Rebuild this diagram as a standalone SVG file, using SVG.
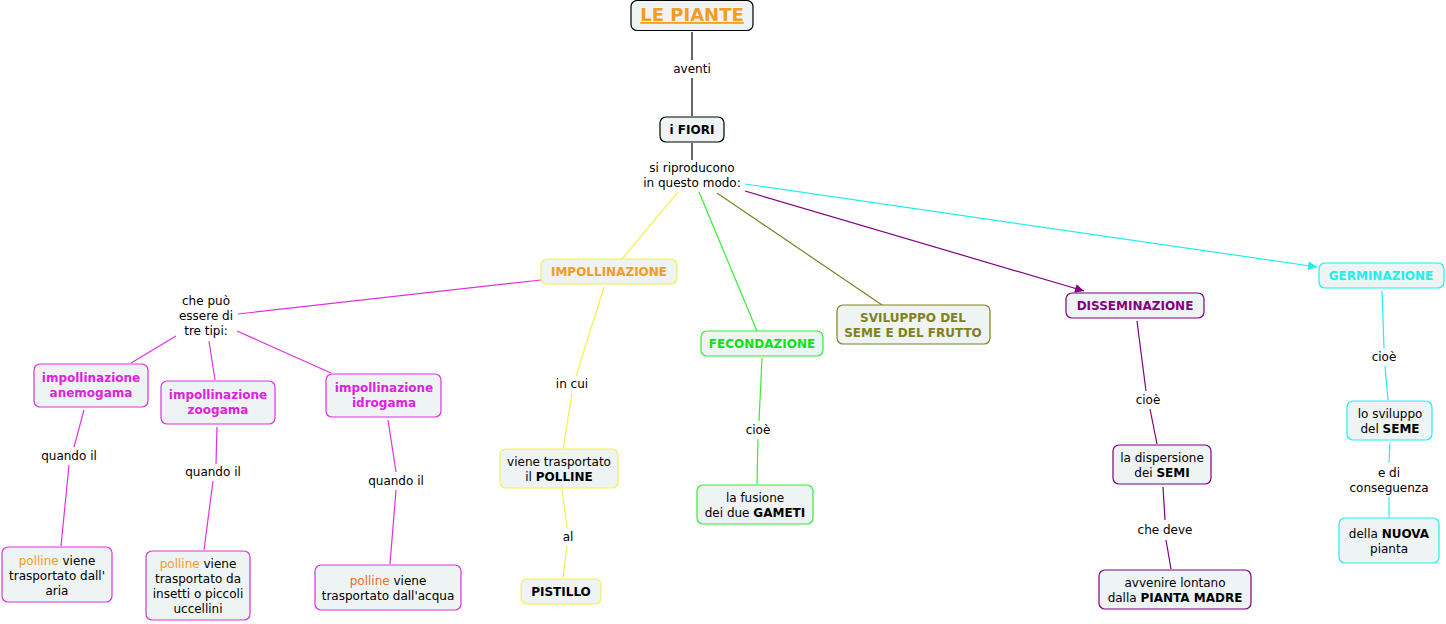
<svg xmlns="http://www.w3.org/2000/svg" width="1446" height="624" viewBox="0 0 1446 624">
<defs>
<style>
text{font-family:"DejaVu Sans",Verdana,sans-serif;font-size:12px;fill:#000;text-anchor:middle}
.b{font-weight:bold}
rect.n{fill:#EEF3F4;stroke-width:1.2}
line{stroke-width:1.2;fill:none}
.k{stroke:#000}.y{stroke:#F5F050}.g{stroke:#33EE33}.o{stroke:#808020}.p{stroke:#800080}.c{stroke:#22EEEE}.m{stroke:#E030E0}
.tm{fill:#DD22DD}.to{fill:#F39C1F}
</style>
<marker id="ap" viewBox="0 0 10 10" refX="10" refY="5" markerWidth="10" markerHeight="9" markerUnits="userSpaceOnUse" orient="auto"><path d="M0,0 L10,5 L0,10 z" fill="#800080"/></marker>
<marker id="ac" viewBox="0 0 10 10" refX="10" refY="5" markerWidth="10" markerHeight="9" markerUnits="userSpaceOnUse" orient="auto"><path d="M0,0 L10,5 L0,10 z" fill="#22EEEE"/></marker>
</defs>
<rect width="1446" height="624" fill="#fff"/>
<g id="connectors">
<line class="k" x1="692" y1="32" x2="692" y2="60"/>
<line class="k" x1="692" y1="78" x2="692" y2="116"/>
<line class="k" x1="692" y1="143" x2="692" y2="160"/>
<line class="y" x1="678" y1="192" x2="622" y2="259"/>
<line class="g" x1="699" y1="192" x2="757" y2="331"/>
<line class="o" x1="717" y1="193" x2="882" y2="305"/>
<line class="p" x1="745" y1="191" x2="1084" y2="291" marker-end="url(#ap)"/>
<line class="c" x1="745" y1="184" x2="1317" y2="267" marker-end="url(#ac)"/>
<line class="m" x1="541" y1="280" x2="238" y2="314"/>
<line class="m" x1="176" y1="336" x2="131" y2="363"/>
<line class="m" x1="209" y1="341" x2="215" y2="380"/>
<line class="m" x1="237" y1="331" x2="331" y2="373"/>
<line class="m" x1="84" y1="410" x2="74" y2="447"/>
<line class="m" x1="69" y1="465" x2="61" y2="546"/>
<line class="m" x1="217" y1="427" x2="216" y2="464"/>
<line class="m" x1="213" y1="481" x2="204" y2="550"/>
<line class="m" x1="388" y1="420" x2="396" y2="472"/>
<line class="m" x1="396" y1="490" x2="390" y2="564"/>
<line class="y" x1="604" y1="287" x2="576" y2="376"/>
<line class="y" x1="572" y1="393" x2="563" y2="449"/>
<line class="y" x1="562" y1="490" x2="567" y2="528"/>
<line class="y" x1="567" y1="546" x2="563" y2="578"/>
<line class="g" x1="762" y1="358" x2="759" y2="421"/>
<line class="g" x1="758" y1="439" x2="757" y2="484"/>
<line class="p" x1="1137" y1="321" x2="1146" y2="391"/>
<line class="p" x1="1150" y1="409" x2="1157" y2="444"/>
<line class="p" x1="1163" y1="487" x2="1165" y2="520"/>
<line class="p" x1="1166" y1="540" x2="1171" y2="569"/>
<line class="c" x1="1382" y1="291" x2="1384" y2="348"/>
<line class="c" x1="1385" y1="366" x2="1388" y2="400"/>
<line class="c" x1="1390" y1="443" x2="1389" y2="463"/>
<line class="c" x1="1389" y1="497" x2="1389" y2="517"/>
</g>
<g id="links">
<text x="692" y="73">aventi</text>
<text x="692" y="172">si riproducono</text>
<text x="692" y="187">in questo modo:</text>
<text x="206" y="305">che può</text>
<text x="206" y="320">essere di</text>
<text x="206" y="335">tre tipi:</text>
<text x="69" y="460">quando il</text>
<text x="213" y="476">quando il</text>
<text x="396" y="485">quando il</text>
<text x="572" y="388">in cui</text>
<text x="568" y="541">al</text>
<text x="758" y="434">cioè</text>
<text x="1148" y="404">cioè</text>
<text x="1165" y="534">che deve</text>
<text x="1384" y="361">cioè</text>
<text x="1389" y="477">e di</text>
<text x="1389" y="492">conseguenza</text>
</g>
<g id="n-piante"><rect class="n" x="631" y="0.5" width="122" height="30" rx="6" stroke="#000"/><text class="b to" x="692" y="21" style="font-size:18px;text-decoration:underline">LE PIANTE</text></g>
<g id="n-fiori"><rect class="n" x="660" y="117" width="64" height="25" rx="6" stroke="#000"/><text class="b" x="692" y="134">i FIORI</text></g>
<g id="n-impoll"><rect class="n" x="541" y="259" width="136" height="25" rx="6" stroke="#F5F050"/><text class="b to" x="609" y="276">IMPOLLINAZIONE</text></g>
<g id="n-fecond"><rect class="n" x="701" y="331" width="122" height="25" rx="6" stroke="#33EE33"/><text class="b" x="762" y="348" fill="#11E011" style="fill:#11E011">FECONDAZIONE</text></g>
<g id="n-sviluppo"><rect class="n" x="837" y="305" width="153" height="39" rx="6" stroke="#808020"/><text class="b" x="913" y="322" style="fill:#808020">SVILUPPPO DEL</text><text class="b" x="913" y="337" style="fill:#808020">SEME E DEL FRUTTO</text></g>
<g id="n-dissem"><rect class="n" x="1066" y="293" width="138" height="25" rx="6" stroke="#800080"/><text class="b" x="1135" y="310" style="fill:#800080">DISSEMINAZIONE</text></g>
<g id="n-germ"><rect class="n" x="1319" y="263" width="125" height="25" rx="6" stroke="#22EEEE"/><text class="b" x="1381" y="280" style="fill:#22EEEE">GERMINAZIONE</text></g>
<g id="n-anemo"><rect class="n" x="34" y="364" width="114" height="43" rx="6" stroke="#E030E0"/><text class="b tm" x="91" y="382">impollinazione</text><text class="b tm" x="91" y="397">anemogama</text></g>
<g id="n-zoo"><rect class="n" x="161" y="381" width="114" height="43" rx="6" stroke="#E030E0"/><text class="b tm" x="218" y="399">impollinazione</text><text class="b tm" x="218" y="414">zoogama</text></g>
<g id="n-idro"><rect class="n" x="326" y="374" width="115" height="43" rx="6" stroke="#E030E0"/><text class="b tm" x="384" y="392">impollinazione</text><text class="b tm" x="384" y="407">idrogama</text></g>
<g id="n-aria"><rect class="n" x="2" y="547" width="110" height="55" rx="6" stroke="#E030E0"/><text x="57" y="565"><tspan class="to">polline</tspan> viene</text><text x="57" y="580">trasportato dall'</text><text x="57" y="595">aria</text></g>
<g id="n-insetti"><rect class="n" x="146" y="551" width="104" height="69" rx="6" stroke="#E030E0"/><text x="198" y="568"><tspan class="to">polline</tspan> viene</text><text x="198" y="583">trasportato da</text><text x="198" y="598">insetti o piccoli</text><text x="198" y="613">uccellini</text></g>
<g id="n-acqua"><rect class="n" x="315" y="565" width="146" height="45" rx="6" stroke="#E030E0"/><text x="388" y="585"><tspan style="fill:#F26A22">polline</tspan> viene</text><text x="388" y="600">trasportato dall'acqua</text></g>
<g id="n-polline"><rect class="n" x="500" y="449" width="118" height="39" rx="6" stroke="#F5F050"/><text x="559" y="466">viene trasportato</text><text x="559" y="481">il <tspan class="b">POLLINE</tspan></text></g>
<g id="n-pistillo"><rect class="n" x="521" y="579" width="80" height="25" rx="6" stroke="#F5F050"/><text class="b" x="561" y="596">PISTILLO</text></g>
<g id="n-gameti"><rect class="n" x="697" y="485" width="116" height="39" rx="6" stroke="#33EE33"/><text x="755" y="502">la fusione</text><text x="755" y="517">dei due <tspan class="b">GAMETI</tspan></text></g>
<g id="n-semi"><rect class="n" x="1113" y="445" width="98" height="39" rx="6" stroke="#800080"/><text x="1162" y="462">la dispersione</text><text x="1162" y="477">dei <tspan class="b">SEMI</tspan></text></g>
<g id="n-madre"><rect class="n" x="1099" y="570" width="152" height="39" rx="6" stroke="#800080"/><text x="1175" y="587">avvenire lontano</text><text x="1175" y="602">dalla <tspan class="b">PIANTA MADRE</tspan></text></g>
<g id="n-seme"><rect class="n" x="1347" y="401" width="85" height="39" rx="6" stroke="#22EEEE"/><text x="1390" y="418">lo sviluppo</text><text x="1390" y="433">del <tspan class="b">SEME</tspan></text></g>
<g id="n-nuova"><rect class="n" x="1339" y="518" width="100" height="45" rx="6" stroke="#22EEEE"/><text x="1389" y="538">della <tspan class="b">NUOVA</tspan></text><text x="1389" y="553">pianta</text></g>
</svg>
